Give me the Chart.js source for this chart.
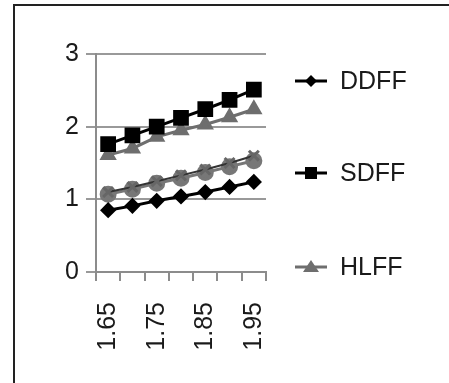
<!DOCTYPE html>
<html>
<head>
<meta charset="utf-8">
<script src="https://cdn.jsdelivr.net/npm/chart.js@4.4.0/dist/chart.umd.min.js"></script>
<style>
body { margin: 0; background: #fff; overflow: hidden; }
#wrap { position: relative; width: 449px; height: 383px; overflow: hidden; }
#frame { position: absolute; left: 13px; top: 4px; right: -10px; bottom: -10px; border-left: 2px solid #222; border-top: 2px solid #222; }
canvas { position: absolute; left: 0; top: 0; }
</style>
</head>
<body>
<div id="wrap">
    <div id="frame"></div>
    <canvas id="grafico" width="449" height="383"></canvas>
</div>
<script>
/* dados */
const categorias = ["1.65", "1.70", "1.75", "1.80", "1.85", "1.90", "1.95"];
const ddff = [0.85, 0.91, 0.98, 1.04, 1.10, 1.17, 1.24];
const sdff = [1.76, 1.88, 2.00, 2.12, 2.24, 2.37, 2.51];
const hlff = [1.61, 1.70, 1.86, 1.95, 2.03, 2.13, 2.24];
const serie4 = [1.10, 1.17, 1.25, 1.33, 1.41, 1.50, 1.60];
const serie5 = [1.07, 1.14, 1.22, 1.29, 1.37, 1.45, 1.53];
const ticksY = [0, 1, 2, 3];

const fonte = "'Liberation Sans', Arial, sans-serif";
Chart.defaults.font.family = fonte;
Chart.defaults.color = "#1a1a1a";

// legenda do lado direito (so as tres primeiras series)
const legendaLateral = {
    id: "legendaLateral",
    afterDraw(chart) {
        const ctx = chart.ctx;
        const x0 = chart.chartArea.right + 29;
        const ys = [81, 173, 267];
        const marcas = ["diamante", "quadrado", "triangulo"];
        ys.forEach((y, i) => {
            const ds = chart.data.datasets[i];
            const cx = x0 + 16;
            ctx.save();
            ctx.strokeStyle = ds.borderColor;
            ctx.lineWidth = 3;
            ctx.beginPath();
            ctx.moveTo(x0, y);
            ctx.lineTo(x0 + 32, y);
            ctx.stroke();
            ctx.fillStyle = ds.pointBackgroundColor;
            ctx.beginPath();
            if (marcas[i] == "diamante") {
                ctx.moveTo(cx, y - 6);
                ctx.lineTo(cx + 6, y);
                ctx.lineTo(cx, y + 6);
                ctx.lineTo(cx - 6, y);
            } else if (marcas[i] == "quadrado") {
                ctx.rect(cx - 6, y - 6, 12, 12);
            } else {
                ctx.moveTo(cx, y - 7);
                ctx.lineTo(cx + 8, y + 5);
                ctx.lineTo(cx - 8, y + 5);
            }
            ctx.closePath();
            ctx.fill();
            ctx.fillStyle = "#1a1a1a";
            ctx.font = "25px " + fonte;
            ctx.textBaseline = "middle";
            ctx.textAlign = "left";
            ctx.fillText(ds.label, x0 + 45, y + 1);
            ctx.restore();
        });
    },
};

const data = {
    labels: categorias,
    datasets: [
        {
            label: "DDFF",
            data: ddff,
            borderColor: "#000",
            backgroundColor: "#000",
            pointBackgroundColor: "#000",
            pointBorderColor: "#000",
            pointStyle: "rectRot",
            pointRadius: 6,
            borderWidth: 3,
            order: 1,
        },
        {
            label: "SDFF",
            data: sdff,
            borderColor: "#000",
            backgroundColor: "#000",
            pointBackgroundColor: "#000",
            pointBorderColor: "#000",
            pointStyle: "rect",
            pointRadius: 9,
            borderWidth: 3,
            order: 1,
        },
        {
            label: "HLFF",
            data: hlff,
            borderColor: "#6e6e6e",
            backgroundColor: "#6e6e6e",
            pointBackgroundColor: "#6e6e6e",
            pointBorderColor: "#6e6e6e",
            pointStyle: "triangle",
            pointRadius: 7,
            borderWidth: 3,
            order: 2,
        },
        {
            label: "Serie 4",
            data: serie4,
            borderColor: "#333",
            backgroundColor: "#666",
            pointBackgroundColor: "#666",
            pointBorderColor: "#666",
            pointStyle: "crossRot",
            pointRadius: 7,
            pointBorderWidth: 3,
            borderWidth: 2,
            order: 3,
        },
        {
            label: "Serie 5",
            data: serie5,
            borderColor: "#777",
            backgroundColor: "#777",
            pointBackgroundColor: "#777",
            pointBorderColor: "#777",
            pointStyle: "circle",
            pointRadius: 7,
            borderWidth: 3,
            order: 4,
        },
    ],
};

const config = {
    type: "line",
    data: data,
    plugins: [legendaLateral],
    options: {
        responsive: false,
        animation: false,
        layout: {
            padding: { left: 0, right: 183, top: 54, bottom: 0 },
        },
        plugins: {
            legend: { display: false },
            tooltip: { enabled: false },
        },
        scales: {
            x: {
                offset: true,
                grid: {
                    offset: true,
                    drawOnChartArea: false,
                    drawTicks: true,
                    tickLength: 9,
                    color: "#8c8c8c",
                    lineWidth: 2,
                },
                border: { color: "#8c8c8c", width: 2 },
                ticks: {
                    autoSkip: false,
                    minRotation: 90,
                    maxRotation: 90,
                    padding: 21,
                    color: "#1a1a1a",
                    font: { size: 25 },
                    callback: function (valor, indice) {
                        return indice % 2 == 0 ? categorias[indice] : "";
                    },
                },
                afterFit: function (escala) {
                    escala.height = 111;
                },
            },
            y: {
                min: 0,
                max: 3,
                afterBuildTicks: function (escala) {
                    escala.ticks = ticksY.map((v) => ({ value: v }));
                },
                grid: {
                    color: "#999",
                    lineWidth: 2,
                    tickLength: 10,
                },
                border: { color: "#8c8c8c", width: 2 },
                ticks: {
                    padding: 7,
                    color: "#1a1a1a",
                    font: { size: 25 },
                },
                afterFit: function (escala) {
                    escala.width = 96;
                },
            },
        },
    },
};

const grafico = new Chart(document.getElementById("grafico"), config);
</script>
</body>
</html>
